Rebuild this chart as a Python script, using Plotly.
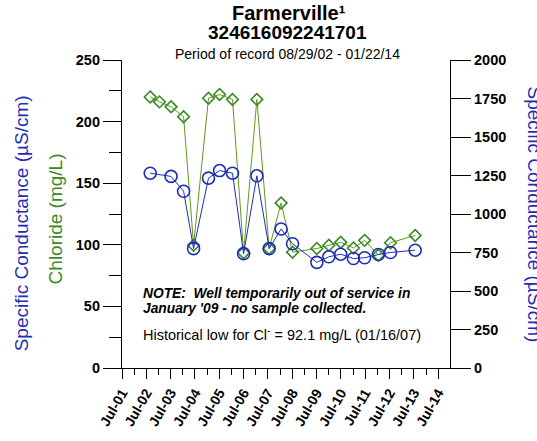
import plotly.graph_objects as go

# Chloride (mg/L) samples
cl_dates = ["2002-08-29", "2003-01-15", "2003-07-08", "2004-01-12", "2004-06-10",
            "2005-01-20", "2005-07-05", "2006-01-15", "2006-07-01", "2007-01-16",
            "2007-07-20", "2008-01-15", "2008-07-05", "2009-07-05", "2010-01-01",
            "2010-06-28", "2011-01-05", "2011-06-22", "2012-01-15", "2012-07-15",
            "2013-07-20"]
cl_values = [220, 216, 212, 204, 99.6, 219, 222, 218, 93.5, 218,
             97, 134, 94, 97, 99.6, 102, 97.4, 103.6, 91.6, 101.7, 107.6]

# Specific conductance (uS/cm) samples
sc_dates = ["2002-08-29", "2003-07-08", "2004-01-12", "2004-06-10",
            "2005-01-20", "2005-07-05", "2006-01-15", "2006-07-01", "2007-01-16",
            "2007-07-20", "2008-01-15", "2008-07-05", "2009-07-05", "2010-01-01",
            "2010-06-28", "2011-01-05", "2011-06-22", "2012-01-15", "2012-07-15",
            "2013-07-20"]
sc_values = [1265, 1244, 1148, 775, 1233, 1282, 1265, 743, 1248,
             775, 903, 807, 686, 722, 739, 711, 716, 737, 750, 765]

GREEN = "#3b8a26"
GREEN_LINE = "#5f9a1c"
BLUE = "#1e2db4"
FONT = "Liberation Sans, Arial, sans-serif"

W, H = 537, 441
L, R, T, B = 122, 87, 60, 68
PW, PH = W - L - R, H - T - B

fig = go.Figure()
fig.add_trace(go.Scatter(
    x=cl_dates, y=cl_values, mode="lines+markers",
    line=dict(color=GREEN_LINE, width=1),
    marker=dict(symbol="diamond-open", size=9, color=GREEN, line=dict(width=1.6, color=GREEN)),
    yaxis="y", cliponaxis=False, showlegend=False))
fig.add_trace(go.Scatter(
    x=sc_dates, y=sc_values, mode="lines+markers",
    line=dict(color=BLUE, width=1),
    marker=dict(symbol="circle-open", size=12, color=BLUE, line=dict(width=1.6, color=BLUE)),
    yaxis="y2", cliponaxis=False, showlegend=False))

fig.update_layout(
    width=W, height=H,
    margin=dict(l=L, r=R, t=T, b=B),
    paper_bgcolor="white", plot_bgcolor="white",
    font=dict(family=FONT, color="black"),
    xaxis=dict(
        type="date", range=["2001-07-01", "2014-12-25"],
        tickmode="linear", tick0="2001-07-01", dtick="M12", tickformat="%b-%y",
        tickangle=-60, ticks="outside", ticklen=10, tickwidth=1.2, tickcolor="black",
        tickfont=dict(size=14, family=FONT, weight="bold"),
        minor=dict(ticks="outside", ticklen=6, tickwidth=1.2, tickcolor="black",
                   tick0="2002-01-01", dtick="M12", showgrid=False),
        showline=True, linecolor="black", linewidth=1.2,
        showgrid=False, zeroline=False),
    yaxis=dict(
        range=[0, 250], tickmode="linear", tick0=0, dtick=50,
        ticks="outside", ticklen=18, tickwidth=1.2, tickcolor="black",
        minor=dict(ticks="outside", ticklen=12, tickwidth=1.2, tickcolor="black", dtick=25, tick0=0,
                   showgrid=False),
        tickfont=dict(size=14.5, family=FONT, weight="bold"),
        showline=True, linecolor="black", linewidth=1.2,
        showgrid=False, zeroline=False),
    yaxis2=dict(
        range=[0, 2000], overlaying="y", side="right", tickmode="linear", tick0=0, dtick=250,
        ticks="outside", ticklen=20, tickwidth=1.2, tickcolor="black",
        tickfont=dict(size=14.5, family=FONT, weight="bold"),
        showline=True, linecolor="black", linewidth=1.2,
        showgrid=False, zeroline=False),
)

# (text, x, y from top in pixels, size, color, angle, xanchor)
annotations = [
    ("<b>Farmerville¹</b>", 289, 12, 20, "black", 0, "center"),
    ("<b>324616092241701</b>", 287, 32, 19, "black", 0, "center"),
    ("Period of record 08/29/02 - 01/22/14", 287, 54, 14, "black", 0, "center"),
    ("Specific Conductance (µS/cm)", 21, 226, 19, BLUE, -90, "center"),
    ("Chloride (mg/L)", 55, 222, 19, GREEN, -90, "center"),
    ("Specific Conductance (µS/cm)", 535, 217, 19, BLUE, 90, "center"),
    ("<b><i>NOTE:  Well temporarily out of service in</i></b>", 141, 297, 13.8, "black", 0, "left"),
    ("<b><i>January '09 - no sample collected.</i></b>", 141, 313, 13.8, "black", 0, "left"),
    ("Historical low for Cl<sup>-</sup> = 92.1 mg/L (01/16/07)", 141, 338, 14.5, "black", 0, "left"),
]
for text, xp, yp, size, color, angle, xanchor in annotations:
    fig.add_annotation(
        xref="paper", yref="paper", showarrow=False, yanchor="middle", xanchor=xanchor,
        x=(xp - L) / PW, y=(H - B - yp) / PH,
        text=text, textangle=angle,
        font=dict(size=size, color=color, family=FONT))

fig.write_html("out.html", config={"displayModeBar": False},
               post_script="document.body.style.margin='0px';")
